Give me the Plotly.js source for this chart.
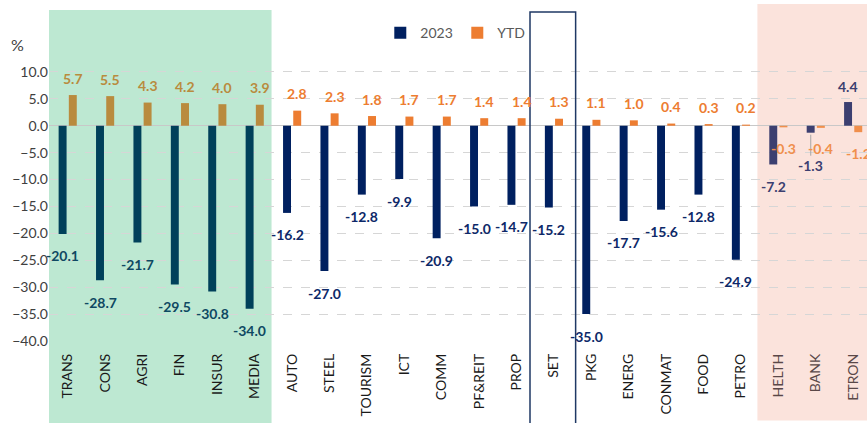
<!DOCTYPE html>
<html>
<head>
<meta charset="utf-8">
<script src="https://cdn.plot.ly/plotly-3.0.1.min.js"></script>
<style>
  html, body { margin: 0; padding: 0; background: #fff; }
  #chart { width: 867px; height: 423px; }
</style>
</head>
<body>
<div id="chart"></div>
<script>
// sector returns, %
const sectors = ["TRANS", "CONS", "AGRI", "FIN", "INSUR", "MEDIA",
  "AUTO", "STEEL", "TOURISM", "ICT", "COMM", "PF&REIT", "PROP", "SET",
  "PKG", "ENERG", "CONMAT", "FOOD", "PETRO", "HELTH", "BANK", "ETRON"];
const ret2023 = [-20.1, -28.7, -21.7, -29.5, -30.8, -34.0,
  -16.2, -27.0, -12.8, -9.9, -20.9, -15.0, -14.7, -15.2,
  -35.0, -17.7, -15.6, -12.8, -24.9, -7.2, -1.3, 4.4];
const retYTD = [5.7, 5.5, 4.3, 4.2, 4.0, 3.9,
  2.8, 2.3, 1.8, 1.7, 1.7, 1.4, 1.4, 1.3,
  1.1, 1.0, 0.4, 0.3, 0.2, -0.3, -0.4, -1.2];
// which shaded zone each sector sits in
const zone = ["lead", "lead", "lead", "lead", "lead", "lead",
  "mid", "mid", "mid", "mid", "mid", "mid", "mid", "mid",
  "mid", "mid", "mid", "mid", "mid", "lag", "lag", "lag"];
const yTicks = [10, 5, 0, -5, -10, -15, -20, -25, -30, -35, -40];

const colors = {
  lead: {y23: "#00405a", ytd: "#b98b3e", t23: "#0f4862", tytd: "#b98b3e", tick: "#1a1a1a"},
  mid:  {y23: "#002060", ytd: "#ed7d31", t23: "#0d2868", tytd: "#ed7d31", tick: "#1a1a1a"},
  lag:  {y23: "#3c3f70", ytd: "#f08f4c", t23: "#3c3f70", tytd: "#f08f4c", tick: "#5a4848"}
};

const labelFont = {family: "Lato, 'Open Sans', sans-serif", size: 14, weight: 700};

let traces = [];
let annotations = [];
["lead", "mid", "lag"].forEach(z => {
  let idx = sectors.map((s, i) => i).filter(i => zone[i] === z);
  traces.push({
    type: "bar", name: "2023", offsetgroup: "a",
    x: idx.map(i => sectors[i]), y: idx.map(i => ret2023[i]),
    marker: {color: colors[z].y23},
    showlegend: z === "mid", legendrank: 1, hoverinfo: "x+y"
  });
  traces.push({
    type: "bar", name: "YTD", offsetgroup: "b",
    x: idx.map(i => sectors[i]), y: idx.map(i => retYTD[i]),
    marker: {color: colors[z].ytd},
    showlegend: z === "mid", legendrank: 2, hoverinfo: "x+y"
  });
});

sectors.forEach((s, i) => {
  let z = zone[i];
  let a = {
    x: s, y: ret2023[i], text: ret2023[i].toFixed(1),
    xshift: -5, yshift: ret2023[i] >= 0 ? 16 : -22,
    showarrow: false, font: Object.assign({}, labelFont, {color: colors[z].t23})
  };
  if (s === "BANK") {
    // small bar: label pulled down with a leader line
    a.showarrow = true; a.arrowhead = 0; a.arrowcolor = "#a6a6a6";
    a.arrowwidth = 1; a.ax = 0; a.ay = 33; a.yshift = 0; a.standoff = 2;
  }
  annotations.push(a);
  annotations.push({
    x: s, y: retYTD[i], text: retYTD[i].toFixed(1),
    xshift: 5, yshift: retYTD[i] >= 0 ? 17 : -21,
    showarrow: false, font: Object.assign({}, labelFont, {color: colors[z].tytd})
  });
});

annotations.push({
  xref: "paper", yref: "paper", x: -0.038, y: 0.93, xanchor: "center",
  text: "%", showarrow: false,
  font: {family: "Lato, 'Open Sans', sans-serif", size: 16, color: "#404040"}
});

const layout = {
  width: 867, height: 423,
  margin: {l: 49, r: 0, t: 10, b: 82},
  paper_bgcolor: "#ffffff", plot_bgcolor: "rgba(0,0,0,0)",
  barmode: "group", bargap: 0.455, bargroupgap: 0.22,
  font: {family: "Lato, 'Open Sans', sans-serif", color: "#404040"},
  xaxis: {
    type: "category", range: [-0.5, 21.37],
    tickvals: sectors,
    ticktext: sectors.map((s, i) =>
      '<span style="color:' + colors[zone[i]].tick + '">' + s.replace("&", "&amp;") + '</span>'),
    tickangle: -90, ticklabelstandoff: 9,
    tickfont: {size: 14, color: "#1a1a1a"},
    showgrid: false, zeroline: false, showline: false, fixedrange: true
  },
  yaxis: {
    range: [-40, 21.5], tickvals: yTicks, tickformat: ".1f",
    tickfont: {size: 14, color: "#404040"},
    showgrid: true, gridcolor: "#d6d6d6", griddash: "dash", gridwidth: 1,
    zeroline: true, zerolinecolor: "#c8c8c8", zerolinewidth: 1.5,
    showline: false, fixedrange: true
  },
  legend: {
    orientation: "h", x: 0.405, y: 0.93, xanchor: "left", yanchor: "middle",
    bgcolor: "rgba(0,0,0,0)", font: {size: 14, color: "#595959"},
    itemwidth: 30, entrywidth: 32, traceorder: "normal"
  },
  shapes: [
    {type: "rect", layer: "below", xref: "x", yref: "paper",
     x0: -0.62, x1: 5.45, y0: -0.26, y1: 1.0,
     fillcolor: "#bde8d2", line: {width: 0}},
    {type: "rect", layer: "below", xref: "x", yref: "paper",
     x0: 18.44, x1: 22, y0: -0.24, y1: 1.018,
     fillcolor: "#fbe3dc", line: {width: 0}},
    {type: "rect", layer: "above", xref: "x", yref: "paper",
     x0: 12.36, x1: 13.58, y0: -0.27, y1: 0.994,
     fillcolor: "rgba(0,0,0,0)", line: {color: "#1f3864", width: 1.5}}
  ],
  annotations: annotations
};

Plotly.newPlot("chart", traces, layout, {displayModeBar: false, staticPlot: true});
</script>
</body>
</html>
